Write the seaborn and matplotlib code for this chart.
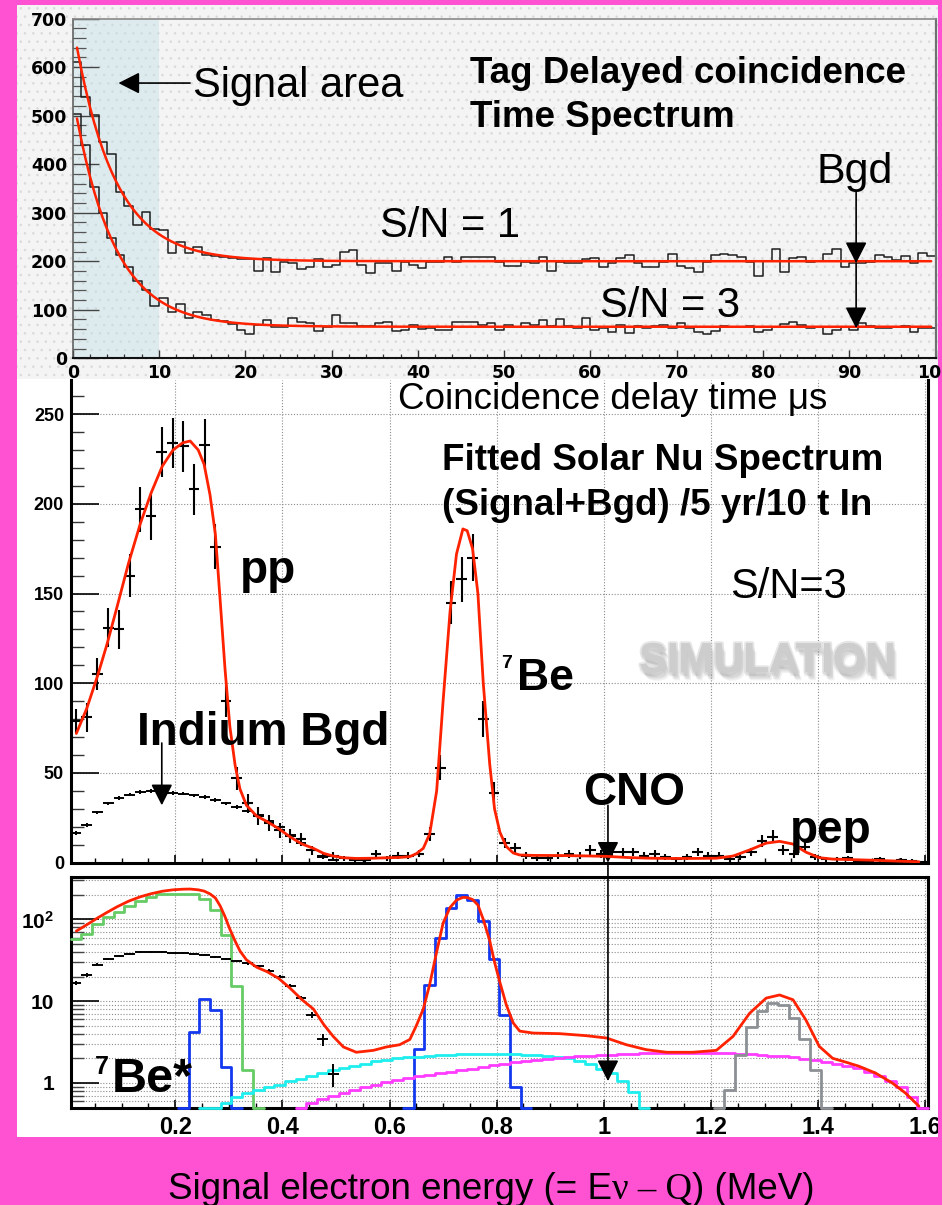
import numpy as np
import pandas as pd
import matplotlib
matplotlib.use("Agg")
import matplotlib.pyplot as plt
import seaborn as sns
from matplotlib.patches import Rectangle, ConnectionPatch
from matplotlib.ticker import MultipleLocator, FixedLocator, LogLocator, NullFormatter, FixedFormatter
from matplotlib import patheffects as pe
from matplotlib.transforms import Bbox, TransformedBbox

# ---------------------------------------------------------------- data ----
# Tag delayed-coincidence time spectrum, counts per 1 us bin (0..100 us)
time_edges = np.arange(0, 101, 1)
counts_sn1 = [610, 539, 501, 446, 420, 343, 314, 275, 301, 267,
              264, 216, 240, 216, 229, 213, 211, 208, 206, 204,
              204, 180, 206, 178, 199, 196, 183, 189, 205, 189,
              192, 218, 224, 192, 175, 196, 196, 180, 199, 192,
              185, 198, 198, 209, 199, 209, 209, 209, 208, 199,
              191, 191, 199, 196, 209, 180, 199, 196, 196, 205,
              206, 189, 196, 207, 213, 196, 189, 189, 199, 215,
              191, 185, 178, 199, 213, 215, 213, 209, 199, 170,
              201, 226, 178, 206, 208, 199, 201, 215, 226, 189,
              196, 196, 199, 213, 209, 202, 211, 196, 216, 211]
counts_sn3 = [504, 439, 353, 299, 247, 213, 189, 159, 141, 108,
              124, 96, 112, 84, 96, 89, 79, 77, 71, 58,
              50, 69, 79, 65, 64, 82, 75, 73, 56, 65,
              89, 73, 72, 67, 67, 72, 75, 57, 58, 69,
              60, 62, 58, 58, 75, 75, 75, 69, 72, 58,
              69, 64, 73, 69, 79, 67, 80, 67, 62, 82,
              58, 62, 55, 69, 53, 67, 62, 67, 69, 62,
              73, 62, 55, 51, 57, 67, 65, 64, 67, 55,
              58, 65, 71, 75, 69, 62, 65, 51, 58, 65,
              58, 72, 67, 62, 62, 65, 67, 55, 62, 62]
# exponential-plus-flat fits: amplitude at t = 0.5 us, decay time (us), flat background
fit_amp = [440, 429]
fit_tau = [4.6, 4.6]
fit_base = [200, 65]

# Solar neutrino electron spectrum, 0.02 MeV bins from 0.005 MeV
e_edges = 0.005 + 0.02 * np.arange(81)
signal_counts = [79, 81, 105, 131, 130, 160, 197, 193, 229, 234,
                 232, 208, 233, 176, 90, 47, 33, 26, 22, 18,
                 15, 13, 7, 4, 4, 2.5, 1.5, 1.5, 5, 2.5,
                 4, 4, 5, 16, 53, 145, 158, 170, 80, 39,
                 11, 8, 4, 2.5, 2.5, 4, 5, 4, 7, 5,
                 6, 6, 6, 4, 5, 3, 2, 3, 6, 4,
                 4, 2, 3, 6, 12, 14.5, 7, 5, 9, 3,
                 2, 2, 2.5, 1, 0.5, 2, 0.5, 1.5, 1, 0.5]
signal_err = [6.5, 8, 9, 11, 11, 12, 12.5, 13, 14, 14,
              14, 14, 14, 12.5, 9, 6.5, 5.5, 5, 4.5, 4,
              4, 3.5, 2.5, 2, 2, 1.5, 1.2, 1.2, 2, 1.5,
              2, 2, 2, 4, 7, 12, 12.5, 13, 10, 6,
              3, 2.8, 2, 1.5, 1.5, 2, 2.2, 2, 2.6, 2.2,
              2.4, 2.4, 2.4, 2, 2.2, 1.7, 1.4, 1.7, 2.4, 2,
              2, 1.4, 1.7, 2.4, 3.5, 3.8, 2.6, 2.2, 3, 1.7,
              1.4, 1.4, 1.5, 1, 0.7, 1.4, 0.7, 1.2, 1, 0.7]
indium_counts = [16.5, 21, 28, 33, 36, 38, 39.5, 40, 40, 39,
                 38.5, 37.5, 36.5, 35, 33, 31, 29, 26.8, 23.5, 20,
                 15.5, 11, 6.8, 3.4, 1.3]
indium_err = [0.9, 1, 1, 1, 1, 1, 1, 1, 1, 1,
              1, 1, 1, 1, 1, 1, 1, 1, 1, 0.9,
              0.8, 0.7, 0.6, 0.55, 0.4]

# total fit (signal + background)
fit_energy = [0.0155, 0.035, 0.055, 0.073, 0.091, 0.113, 0.135, 0.155, 0.176, 0.196,
              0.214, 0.228, 0.243, 0.254, 0.265, 0.275, 0.284, 0.293, 0.302, 0.312,
              0.321, 0.333, 0.352, 0.371, 0.393, 0.414, 0.436, 0.458, 0.477, 0.495,
              0.514, 0.538, 0.570, 0.594, 0.619, 0.638, 0.650, 0.663, 0.675, 0.688,
              0.700, 0.713, 0.725, 0.737, 0.745, 0.755, 0.765, 0.775, 0.787, 0.796,
              0.806, 0.818, 0.831, 0.843, 0.868, 0.918, 0.967, 1.005, 1.042, 1.079,
              1.117, 1.166, 1.210, 1.241, 1.272, 1.303, 1.328, 1.353, 1.377, 1.402,
              1.427, 1.452, 1.476, 1.507, 1.538, 1.563, 1.588]
fit_counts = [72, 86, 104, 122, 142, 167, 189, 206, 221, 230,
              234, 235, 230, 222, 205, 183, 146, 108, 76, 54,
              41, 32, 26, 23, 19, 14.5, 10.5, 8, 5.2, 3.7,
              2.75, 2.37, 2.5, 2.75, 2.93, 3.4, 5, 8, 16, 40,
              90, 140, 172, 186, 185, 175, 150, 100, 55, 30,
              17, 9, 5.4, 4.3, 4.07, 4.0, 3.78, 3.54, 2.93, 2.55,
              2.37, 2.37, 2.5, 3.7, 7.1, 10.9, 11.9, 10.4, 5.9, 2.8,
              2.0, 1.79, 1.6, 1.32, 1.0, 0.75, 0.52]

# signal components: (first bin index, bin contents)
pp_first, pp_counts = 0, [57.6, 66, 87, 106, 124, 147, 169, 186, 203, 207,
                          207, 203, 180, 130, 64, 15.4, 1.45, 0.4]
be7s_first, be7s_counts = 10, [0.4, 4.15, 10.6, 7.8, 1.57, 0.4]
be7_first, be7_counts = 31, [0.4, 2.6, 15.8, 58.5, 136, 198, 175, 95, 32.5, 6.8, 0.885, 0.4]
n13_first, n13_counts = 12, [0.4, 0.45, 0.57, 0.67, 0.76, 0.83, 0.89, 0.95, 1.05, 1.13,
                             1.23, 1.32, 1.43, 1.52, 1.63, 1.72, 1.84, 1.93, 2.02, 2.07,
                             2.1, 2.14, 2.17, 2.2, 2.23, 2.25, 2.27, 2.28, 2.27, 2.25,
                             2.22, 2.2, 2.15, 2.1, 2.02, 1.84, 1.72, 1.48, 1.32, 1.05,
                             0.77, 0.4]
o15_first, o15_counts = 21, [0.4, 0.57, 0.64, 0.70, 0.76, 0.83, 0.89, 0.95, 1.02, 1.08,
                             1.15, 1.2, 1.26, 1.32, 1.37, 1.43, 1.48, 1.57, 1.64, 1.72,
                             1.79, 1.85, 1.93, 1.98, 2.02, 2.07, 2.11, 2.15, 2.17, 2.21,
                             2.26, 2.26, 2.3, 2.32, 2.32, 2.32, 2.32, 2.32, 2.32, 2.32,
                             2.32, 2.28, 2.26, 2.2, 2.15, 2.11, 2.06, 1.98, 1.89, 1.8,
                             1.72, 1.6, 1.5, 1.36, 1.2, 1.05, 0.9, 0.68, 0.4]
pep_first, pep_counts = 60, [0.4, 0.81, 2.22, 4.77, 7.48, 9.6, 8.85, 6.2, 3.44, 1.43, 0.4]

energy_ticks = [0.2, 0.4, 0.6, 0.8, 1.0, 1.2, 1.4, 1.6]
energy_tick_labels = ["0.2", "0.4", "0.6", "0.8", "1", "1.2", "1.4", "1.6"]

# --------------------------------------------------------------- style ----
sns.set_theme(style="white")
plt.rcParams["font.family"] = ["Liberation Sans", "DejaVu Sans"]
plt.rcParams.update({
    "text.color": "black",
    "xtick.color": "black",
    "ytick.color": "black",
    "xtick.labelcolor": "black",
    "ytick.labelcolor": "black",
    "mathtext.fontset": "custom",
    "mathtext.bf": "Liberation Sans:bold",
    "mathtext.rm": "Liberation Sans",
    "hatch.linewidth": 0.6,
})

PINK = "#FF52D2"
RED = "#FF2200"
W, H = 942, 1205

fig = plt.figure(figsize=(W / 100, H / 100), dpi=100, facecolor=PINK)


def rect(l, t, r, b):
    return [l / W, 1 - b / H, (r - l) / W, (b - t) / H]


def ftext(x, y, s, **kw):
    kw.setdefault("color", "black")
    return fig.text(x / W, 1 - y / H, s, **kw)


def step_hist(ax, edges, counts, color, lw, zorder=2):
    edges = [float(e) for e in edges]
    df = pd.DataFrame({"x": [0.5 * (a + b) for a, b in zip(edges[:-1], edges[1:])],
                       "w": [float(c) for c in counts]})
    sns.histplot(data=df, x="x", weights="w", bins=edges, element="step",
                 fill=False, color=color, lw=lw, ax=ax, zorder=zorder)


# panel backgrounds
fig.add_artist(Rectangle((17 / W, 1 - 379 / H), (938 - 17) / W, (379 - 5) / H,
                         transform=fig.transFigure, facecolor="#F4F4F4",
                         edgecolor="#DADADA", hatch="..", lw=0, zorder=-10))
fig.add_artist(Rectangle((17 / W, 1 - 1137 / H), (938 - 17) / W, (1137 - 379) / H,
                         transform=fig.transFigure, facecolor="white",
                         edgecolor="none", lw=0, zorder=-10))

# ------------------------------------------------------------ top panel ----
ax_t = fig.add_axes(rect(72.7, 18.5, 935.5, 358.3))
ax_t.set_facecolor("none")
ax_t.axvspan(0, 10, facecolor="#DEEBEE", edgecolor="#CFDCDF", hatch="..", lw=0, zorder=0)

for counts in (counts_sn1, counts_sn3):
    step_hist(ax_t, time_edges, counts, "#1E1E1E", 1.1)
t_fit = np.linspace(0.5, 99.5, 400)
for a, tau, b in zip(fit_amp, fit_tau, fit_base):
    sns.lineplot(x=t_fit, y=b + a * np.exp(-(t_fit - 0.5) / tau),
                 color=RED, lw=1.8, ax=ax_t)

ax_t.set_xlim(0, 100)
ax_t.set_ylim(0, 700)
ax_t.set_xlabel("")
ax_t.set_ylabel("")
ax_t.xaxis.set_major_locator(MultipleLocator(10))
ax_t.xaxis.set_minor_locator(MultipleLocator(2))
ax_t.yaxis.set_major_locator(MultipleLocator(100))
ax_t.yaxis.set_minor_locator(MultipleLocator(20))
ax_t.tick_params(axis="y", which="major", direction="in", length=19, width=1.0,
                 color="#444444", labelcolor="black", pad=4, left=True)
ax_t.tick_params(axis="y", which="minor", direction="in", length=9, width=0.9,
                 color="#555555", left=True)
ax_t.tick_params(axis="x", which="major", direction="in", length=6, width=1.0,
                 color="#333333", labelcolor="black", pad=4, bottom=True)
ax_t.tick_params(axis="x", which="minor", direction="in", length=3, width=0.9,
                 color="#333333", bottom=True)
for lab in ax_t.get_xticklabels() + ax_t.get_yticklabels():
    lab.set_fontfamily("DejaVu Sans")
    lab.set_fontweight("bold")
    lab.set_fontsize(12.5)
ax_t.spines["left"].set_color("#555555")
ax_t.spines["left"].set_linewidth(1.1)
ax_t.spines["bottom"].set_color("#111111")
ax_t.spines["bottom"].set_linewidth(1.5)
ax_t.spines["top"].set_color("#8A8A8A")
ax_t.spines["top"].set_linewidth(1.2)
ax_t.spines["right"].set_color("#707070")
ax_t.spines["right"].set_linewidth(1.6)

arrow_kw = dict(arrowstyle="-|>,head_length=0.65,head_width=0.33", mutation_scale=20,
                color="black", lw=1.2, shrinkA=0, shrinkB=0)
ax_t.annotate("", xy=(5.3, 567), xytext=(13.6, 567), arrowprops=arrow_kw)
ax_t.annotate("", xy=(90.8, 196), xytext=(90.8, 342), arrowprops=arrow_kw)
ax_t.annotate("", xy=(90.8, 62), xytext=(90.8, 196), arrowprops=arrow_kw)

ftext(193, 97, "Signal area", fontsize=30, va="baseline", ha="left")
ftext(470, 82.7, "Tag Delayed coincidence", fontsize=26.5, fontweight="bold", va="baseline")
ftext(470, 126.7, "Time Spectrum", fontsize=26.5, fontweight="bold", va="baseline")
ftext(816, 183, "Bgd", fontsize=31, va="baseline")
ftext(380, 236.7, "S/N = 1", fontsize=30, va="baseline")
ftext(600, 316.7, "S/N = 3", fontsize=30, va="baseline")

# --------------------------------------------------------- middle panel ----
ax_m = fig.add_axes(rect(70.7, 380, 928, 862.7))
ax_m.set_facecolor("white")
e_centers = e_edges[:-1] + 0.01
n_ind = len(indium_counts)
ax_m.errorbar(e_centers, signal_counts, xerr=0.01, yerr=signal_err, fmt="none",
              ecolor="black", elinewidth=1.5, capsize=0, zorder=3)
ax_m.errorbar(e_centers[:n_ind], indium_counts, xerr=0.01, yerr=indium_err, fmt="none",
              ecolor="black", elinewidth=1.4, capsize=0, zorder=3)
sns.lineplot(x=fit_energy, y=fit_counts, color=RED, lw=2.0, sort=False,
             estimator=None, ax=ax_m, zorder=4)
ax_m.set_xlim(0.005, 1.605)
ax_m.set_ylim(0, 269)
ax_m.set_xlabel("")
ax_m.set_ylabel("")
ax_m.xaxis.set_major_locator(FixedLocator(energy_ticks))
ax_m.xaxis.set_minor_locator(MultipleLocator(0.05))
ax_m.yaxis.set_major_locator(MultipleLocator(50))
ax_m.yaxis.set_minor_locator(MultipleLocator(10))
ax_m.grid(True, which="major", color="#8C8C8C", lw=0.8, ls=(0, (1, 1.6)))
ax_m.tick_params(axis="y", which="major", direction="in", length=20, width=1.2,
                 color="black", labelcolor="black", pad=4.8, left=True, labelsize=13)
ax_m.tick_params(axis="y", which="minor", direction="in", length=9, width=1.0,
                 color="#333333", left=True)
ax_m.tick_params(axis="x", which="major", direction="in", length=6, width=1.2,
                 color="black", bottom=True, labelbottom=False)
ax_m.tick_params(axis="x", which="minor", direction="in", length=3.5, width=1.0,
                 color="black", bottom=True)
for lab in ax_m.get_yticklabels():
    lab.set_fontweight("bold")
for side in ("left", "bottom", "right"):
    ax_m.spines[side].set_color("black")
    ax_m.spines[side].set_linewidth(2.2)
ax_m.spines["top"].set_visible(False)

ax_m.annotate("", xy=(0.175, 32), xytext=(0.175, 66.7), arrowprops=arrow_kw)
ax_m.annotate("", xy=(1.0077, 0), xytext=(1.0077, 32), arrowprops=arrow_kw)

ftext(398, 409.3, "Coincidence delay time \u03bcs", fontsize=26.5, va="baseline")
ftext(441.7, 470, "Fitted Solar Nu Spectrum", fontsize=26.5, fontweight="bold", va="baseline")
ftext(441.7, 515, "(Signal+Bgd) /5 yr/10 t In", fontsize=26.5, fontweight="bold", va="baseline")
ftext(240, 583.3, "pp", fontsize=33, fontweight="bold", va="baseline")
ftext(137, 745, "Indium Bgd", fontsize=33, fontweight="bold", va="baseline")
ftext(501, 655, "7", fontsize=14, fontweight="bold", va="top")
ftext(517, 690, "Be", fontsize=32, fontweight="bold", va="baseline")
ftext(730, 598.3, "S/N=3", fontsize=30, va="baseline")
ftext(583, 805, "CNO", fontsize=33, fontweight="bold", va="baseline")
ftext(790, 843.3, "pep", fontsize=33, fontweight="bold", va="baseline")

# soft grey watermark with a blurred drop shadow
sim = ftext(767, 672, "SIMULATION", fontsize=30, fontweight="bold",
            va="baseline", ha="center", color="#CDCDCD")
shadow = [pe.SimplePatchShadow(offset=(dx, dy), shadow_rgbFace="#7A7A7A", alpha=0.10)
          for dx, dy in ((0, -2), (1, -3), (2, -4), (2, -5), (3, -6), (-1, -3), (1, -1))]
sim.set_path_effects(shadow + [
    pe.withStroke(linewidth=3, foreground="#D6D6D6", alpha=0.6),
    pe.Normal(),
])

# --------------------------------------------------------- bottom panel ----
ax_b = fig.add_axes(rect(70.7, 877, 928, 1107.5))
ax_b.set_facecolor("white")
floor = 0.5
components = [
    (pp_first, pp_counts, "#66CC66"),
    (be7s_first, be7s_counts, "#1438F0"),
    (be7_first, be7_counts, "#1438F0"),
    (n13_first, n13_counts, "#1EEEEE"),
    (o15_first, o15_counts, "#FF3CFF"),
    (pep_first, pep_counts, "#8C9094"),
]
for k0, vals, col in components:
    vals = np.clip(np.asarray(vals, float), floor, None)
    step_hist(ax_b, e_edges[k0:k0 + len(vals) + 1], vals, col, 2.0, zorder=3)
ax_b.errorbar(e_centers[:n_ind], indium_counts, xerr=0.01, yerr=indium_err, fmt="none",
              ecolor="black", elinewidth=1.4, capsize=0, zorder=4)
sns.lineplot(x=fit_energy, y=fit_counts, color=RED, lw=2.0, sort=False,
             estimator=None, ax=ax_b, zorder=5)
for ln in ax_b.lines:
    ln.set_clip_on(False)
ax_b.set_yscale("log")
ax_b.set_xlim(0.005, 1.605)
ax_b.set_ylim(0.5, 330)
ax_b.set_xlabel("")
ax_b.set_ylabel("")
ax_b.xaxis.set_major_locator(FixedLocator(energy_ticks))
ax_b.xaxis.set_major_formatter(FixedFormatter(energy_tick_labels))
ax_b.xaxis.set_minor_locator(MultipleLocator(0.05))
ax_b.yaxis.set_major_locator(FixedLocator([1, 10, 100]))
ax_b.yaxis.set_major_formatter(FixedFormatter(["1", "10", r"$\mathbf{10^{2}}$"]))
ax_b.yaxis.set_minor_locator(LogLocator(base=10, subs=np.arange(2, 10)))
ax_b.yaxis.set_minor_formatter(NullFormatter())
ax_b.grid(True, axis="y", which="both", color="#8C8C8C", lw=0.8, ls=(0, (1, 1.6)))
ax_b.grid(True, axis="x", which="major", color="#8C8C8C", lw=0.8, ls=(0, (1, 1.6)))
ax_b.tick_params(axis="y", which="major", direction="in", length=20, width=1.2,
                 color="black", labelcolor="black", pad=12, left=True, labelsize=15)
ax_b.tick_params(axis="y", which="minor", direction="in", length=9, width=1.0,
                 color="#444444", left=True)
ax_b.tick_params(axis="x", which="major", direction="in", length=6, width=1.2,
                 color="black", labelcolor="black", pad=6, bottom=True, labelsize=17)
ax_b.tick_params(axis="x", which="minor", direction="in", length=3.5, width=1.0,
                 color="black", bottom=True)
for lab in ax_b.get_xticklabels() + ax_b.get_yticklabels():
    lab.set_fontweight("bold")
for side in ("left", "bottom", "right", "top"):
    ax_b.spines[side].set_color("black")
    ax_b.spines[side].set_linewidth(2.2)

# last energy label is cut by the white panel edge
clip = TransformedBbox(Bbox([[17 / W, 0], [938 / W, 1]]), fig.transFigure)
for lab in ax_b.get_xticklabels():
    lab.set_clip_box(clip)
    lab.set_clip_on(True)

cno = ConnectionPatch(xyA=(1.0077, 0), coordsA=ax_m.transData,
                      xyB=(1.0077, 1.05), coordsB=ax_b.transData, **arrow_kw)
cno.set_zorder(6)
fig.add_artist(cno)

ftext(95, 1055, "7", fontsize=18, fontweight="bold", va="top")
ftext(111.7, 1091.7, "Be*", fontsize=35, fontweight="bold", va="baseline")

# x-axis title with a serif nu and Q
fig.canvas.draw()
renderer = fig.canvas.get_renderer()
x_px = 168
base_y = 1199
pieces = [("Signal electron energy (= E", "Liberation Sans"),
          ("\u03bd \u2013 Q", "Liberation Serif"),
          (") (MeV)", "Liberation Sans")]
for s, fam in pieces:
    t = ftext(x_px, base_y, s, fontsize=26.5, family=fam, va="baseline", ha="left")
    x_px = t.get_window_extent(renderer).x1

fig.savefig("out.png", dpi=100, facecolor=PINK)
